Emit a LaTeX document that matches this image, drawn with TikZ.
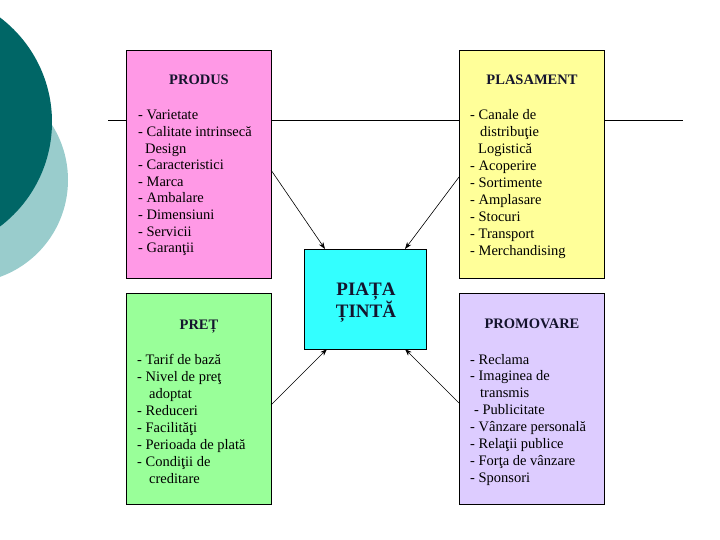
\documentclass[tikz,border=0pt]{standalone}
\usepackage{fontspec}
\setmainfont{Liberation Serif}
\usetikzlibrary{arrows.meta}
\definecolor{prodpink}{RGB}{255,153,230}
\definecolor{plasyellow}{RGB}{255,255,153}
\definecolor{pretgreen}{RGB}{153,255,153}
\definecolor{promlav}{RGB}{221,204,255}
\definecolor{tcyan}{RGB}{51,255,255}
\definecolor{darkteal}{RGB}{0,102,102}
\definecolor{lightteal}{RGB}{153,204,204}
\definecolor{titleink}{RGB}{20,20,45}
\begin{document}
\begin{tikzpicture}[x=1pt,y=-1pt,
  box/.style={draw=black, line width=0.8pt, anchor=north west, inner sep=0pt},
  btitle/.style={font=\fontsize{14.5}{17}\selectfont\bfseries, text=titleink, anchor=base, inner sep=0pt},
  ctitle/.style={font=\fontsize{19}{22}\selectfont\bfseries, text=titleink, anchor=base, inner sep=0pt},
  item/.style={font=\fontsize{14.5}{17}\selectfont, anchor=base west, inner sep=0pt},
  arr/.style={line width=0.6pt, -{Stealth[length=7pt,width=5pt]}}]
\useasboundingbox (0,0) rectangle (720,540);
% decorative circles
\fill[lightteal] (-35,180) circle[radius=103pt];
\fill[darkteal] (-79,122) circle[radius=131pt];
% horizontal rule
\coordinate (hl) at (108,120);
\coordinate (hr) at (683,120);
\draw[line width=0.8pt] (hl) -- (hr);
% boxes
\node[box, fill=prodpink, minimum width=145pt, minimum height=228pt] (prod) at (126,50) {};
\node[box, fill=plasyellow, minimum width=145pt, minimum height=228pt] (plas) at (459,50) {};
\node[box, fill=pretgreen, minimum width=145pt, minimum height=211pt] (pret) at (126,293) {};
\node[box, fill=promlav, minimum width=145pt, minimum height=211pt] (prom) at (459,293) {};
\node[box, fill=tcyan, minimum width=122pt, minimum height=100pt] (piata) at (304,249) {};
% titles
\node[btitle] (tprod) at (199,85) {PRODUS};
\node[btitle] (tplas) at (532,85) {PLASAMENT};
\node[btitle] (tpret) at (199,329) {PREȚ};
\node[btitle] (tprom) at (532,328) {PROMOVARE};
\node[ctitle] (tp1) at (366,295) {PIAȚA};
\node[ctitle] (tp2) at (366,317) {ȚINTĂ};
% items
\foreach \x/\t [count=\i from 0] in {138/{- Varietate}, 138/{- Calitate intrinsecă}, 145/{Design}, 138/{- Caracteristici}, 138/{- Marca}, 138/{- Ambalare}, 138/{- Dimensiuni}, 138/{- Servicii}, 138/{- Garanţii}}
  \node[item] (pa\i) at (\x,120+16.6*\i) {\t};
\foreach \x/\t [count=\i from 0] in {470/{- Canale de}, 480/{distribuţie}, 478/{Logistică}, 470/{- Acoperire}, 470/{- Sortimente}, 470/{- Amplasare}, 470/{- Stocuri}, 470/{- Transport}, 470/{- Merchandising}}
  \node[item] (pb\i) at (\x,120+16.9*\i) {\t};
\foreach \x/\t [count=\i from 0] in {137/{- Tarif de bază}, 137/{- Nivel de preţ}, 149/{adoptat}, 137/{- Reduceri}, 137/{- Facilităţi}, 137/{- Perioada de plată}, 137/{- Condiţii de}, 149/{creditare}}
  \node[item] (pc\i) at (\x,364+17.1*\i) {\t};
\foreach \x/\t [count=\i from 0] in {470/{- Reclama}, 470/{- Imaginea de}, 480/{transmis}, 474/{- Publicitate}, 470/{- Vânzare personală}, 470/{- Relaţii publice}, 470/{- Forţa de vânzare}, 470/{- Sponsori}}
  \node[item] (pd\i) at (\x,364+16.9*\i) {\t};
% connectors
\coordinate (s1) at (271,170);
\coordinate (e1) at (325,249);
\coordinate (s2) at (459,177);
\coordinate (e2) at (405,249);
\coordinate (s3) at (271,405);
\coordinate (e3) at (327,349);
\coordinate (s4) at (459,403);
\coordinate (e4) at (405,349);
\draw[arr] (s1) -- (e1);
\draw[arr] (s2) -- (e2);
\draw[arr] (s3) -- (e3);
\draw[arr] (s4) -- (e4);
\end{tikzpicture}
\end{document}
